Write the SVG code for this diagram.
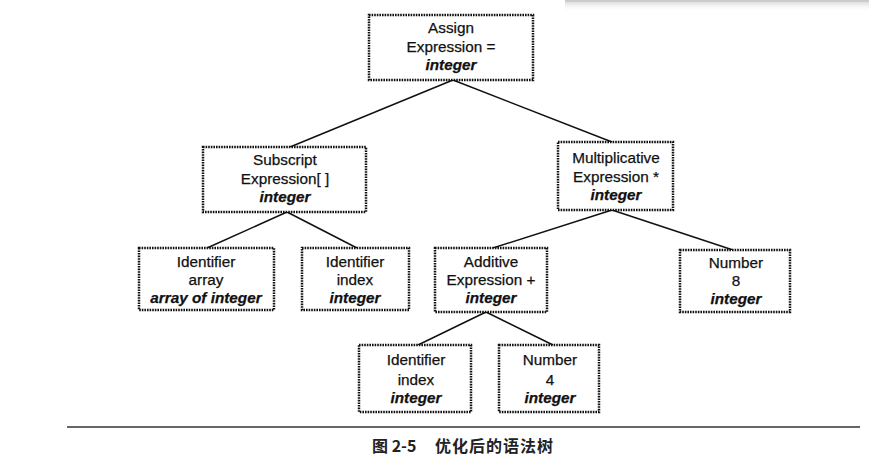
<svg xmlns="http://www.w3.org/2000/svg" width="869" height="465" viewBox="0 0 869 465">
<defs>
<linearGradient id="sh" x1="0" y1="0" x2="0" y2="1">
<stop offset="0" stop-color="#bbb" stop-opacity="0.7"/>
<stop offset="1" stop-color="#fff" stop-opacity="0"/>
</linearGradient>
</defs>
<style>
.box{fill:#fff;stroke:#111;stroke-width:2.5;stroke-dasharray:1.6 1}
.t{font-family:"Liberation Sans",Arial,sans-serif;font-size:15.3px;fill:#111;stroke:#111;stroke-width:0.25;text-anchor:middle}
.b{font-weight:bold;font-style:italic}
.e{stroke:#111;stroke-width:1.5;fill:none}
.cap{font-family:"Noto Sans CJK SC","Noto Sans",sans-serif;font-size:16px;font-weight:bold;fill:#222}
</style>
<rect width="869" height="465" fill="#fff"/>
<rect x="565" y="0" width="304" height="12" fill="url(#sh)"/>
<line x1="565" y1="1" x2="869" y2="1" stroke="#c8c8c8" stroke-width="1.5"/>
<g id="connectors">
<line class="e" x1="453" y1="80" x2="290" y2="147"/>
<line class="e" x1="453" y1="80" x2="612" y2="142"/>
<line class="e" x1="287" y1="212" x2="207" y2="248"/>
<line class="e" x1="287" y1="212" x2="357" y2="248"/>
<line class="e" x1="612" y1="210" x2="493" y2="248"/>
<line class="e" x1="612" y1="210" x2="733" y2="250"/>
<line class="e" x1="486" y1="312" x2="418" y2="345"/>
<line class="e" x1="486" y1="312" x2="553" y2="345"/>
</g>
<g id="assign">
<rect class="box" x="369" y="15" width="164" height="65"/>
<text class="t" x="451" y="33">Assign</text>
<text class="t" x="451" y="52">Expression =</text>
<text class="t b" x="451" y="70">integer</text>
</g>
<g id="subscript">
<rect class="box" x="203" y="147" width="163" height="65"/>
<text class="t" x="285" y="165">Subscript</text>
<text class="t" x="285" y="184">Expression[ ]</text>
<text class="t b" x="285" y="202">integer</text>
</g>
<g id="multiplicative">
<rect class="box" x="558" y="142" width="115" height="68"/>
<text class="t" x="616" y="163">Multiplicative</text>
<text class="t" x="616" y="182">Expression *</text>
<text class="t b" x="616" y="200">integer</text>
</g>
<g id="ident-array">
<rect class="box" x="139" y="248" width="135" height="62"/>
<text class="t" x="206" y="267">Identifier</text>
<text class="t" x="206" y="285">array</text>
<text class="t b" x="206" y="303">array of integer</text>
</g>
<g id="ident-index-top">
<rect class="box" x="302" y="248" width="107" height="62"/>
<text class="t" x="355" y="267">Identifier</text>
<text class="t" x="355" y="285">index</text>
<text class="t b" x="355" y="303">integer</text>
</g>
<g id="additive">
<rect class="box" x="435" y="248" width="112" height="64"/>
<text class="t" x="491" y="267">Additive</text>
<text class="t" x="491" y="285">Expression +</text>
<text class="t b" x="491" y="303">integer</text>
</g>
<g id="number8">
<rect class="box" x="680" y="250" width="110" height="62"/>
<text class="t" x="736" y="268">Number</text>
<text class="t" x="736" y="286">8</text>
<text class="t b" x="736" y="304">integer</text>
</g>
<g id="ident-index-bottom">
<rect class="box" x="359" y="345" width="112" height="67"/>
<text class="t" x="416" y="365">Identifier</text>
<text class="t" x="416" y="385">index</text>
<text class="t b" x="416" y="403">integer</text>
</g>
<g id="number4">
<rect class="box" x="499" y="345" width="100" height="67"/>
<text class="t" x="550" y="365">Number</text>
<text class="t" x="550" y="385">4</text>
<text class="t b" x="550" y="403">integer</text>
</g>
<line x1="67" y1="427" x2="860" y2="427" stroke="#333" stroke-width="1.5"/>
<text class="cap" x="372" y="452">图 2-5</text>
<text class="cap" x="435" y="452" letter-spacing="1">优化后的语法树</text>
</svg>
